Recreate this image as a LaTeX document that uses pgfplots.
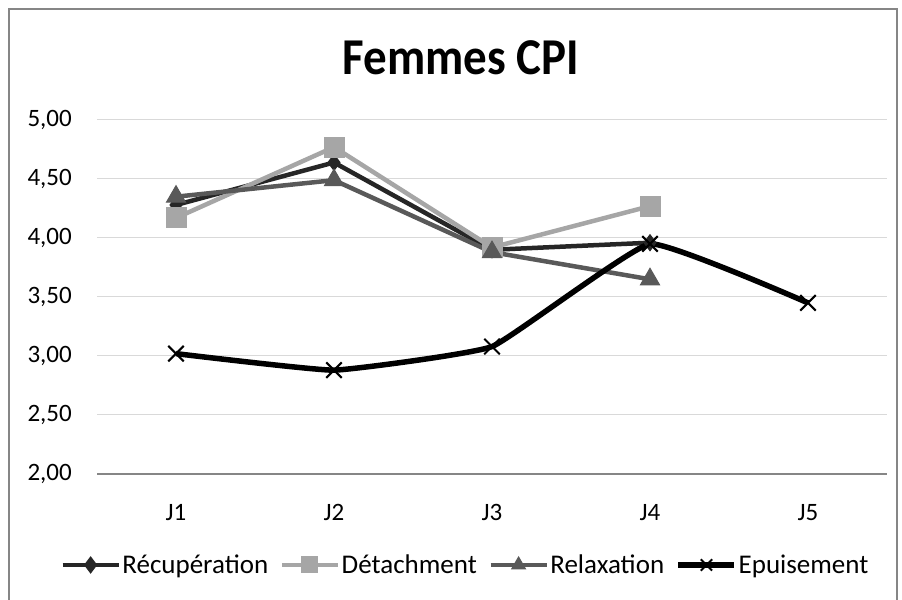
\documentclass[border=0pt]{standalone}
\usepackage{fontspec}
\setmainfont{Carlito}
\usepackage{pgfplots}
\pgfplotsset{compat=1.18}

\definecolor{recup}{HTML}{262626}
\definecolor{detach}{HTML}{A6A6A6}
\definecolor{relax}{HTML}{595959}
\definecolor{gridc}{HTML}{D9D9D9}
\definecolor{framec}{HTML}{868686}

\begin{document}
\begin{tikzpicture}
\useasboundingbox (0,0) rectangle (902bp,600bp);
% outer chart frame (bottom edge is cut off in the reference)
\draw[framec, line width=2.5bp] (9bp,0bp) -- (9bp,591bp) -- (897bp,591bp) -- (897bp,0bp);

\node[font=\fontsize{47bp}{50bp}\selectfont\bfseries, anchor=base, inner sep=0pt, yscale=1.1]
  at (461bp,525bp) {Femmes CPI};

\begin{axis}[
  at={(97bp,126bp)}, anchor=south west,
  scale only axis,
  width=790bp, height=354bp,
  xmin=0.5, xmax=5.5,
  ymin=2, ymax=5,
  xtick={1,2,3,4,5},
  xticklabels={J1,J2,J3,J4,J5},
  ytick={2,2.5,3,3.5,4,4.5,5},
  yticklabel={\pgfmathprintnumber[fixed,fixed zerofill,precision=2,use comma,assume math mode=true]{\tick}},
  tick style={draw=none},
  ticklabel style={font=\fontsize{25bp}{28bp}\selectfont, inner sep=0pt},
  yticklabel style={anchor=east, xshift=-25bp},
  xticklabel style={anchor=north, yshift=-30bp},
  ymajorgrids,
  grid style={gridc, line width=1bp},
  axis x line*=bottom,
  axis y line*=left,
  x axis line style={framec, line width=1.5bp, -},
  y axis line style={draw=none},
  clip=false,
  legend columns=4,
  legend style={
    at={(0.466,-0.257)}, anchor=center,
    draw=none, fill=none,
    font=\fontsize{27bp}{30bp}\selectfont,
    nodes={inner sep=1.5bp},
    column sep=0pt,
    /tikz/every even column/.append style={column sep=10bp},
  },
  legend image code/.code={
    \draw[mark repeat=2, mark phase=2, mark size=8bp, #1]
      plot coordinates {(0bp,0bp) (28bp,0bp) (56bp,0bp)};
  },
]

\addplot[recup, line width=4.5bp, mark=diamond*, mark size=8bp,
  mark options={solid, line width=1bp}]
  coordinates {(1,4.28) (2,4.64) (3,3.90) (4,3.96)};
\addlegendentry{Récupération}

\addplot[detach, line width=4.5bp, mark=square*, mark size=10bp,
  mark options={solid, line width=1bp}]
  coordinates {(1,4.17) (2,4.77) (3,3.92) (4,4.27)};
\addlegendentry{Détachment}

\addplot[relax, line width=4.5bp, mark=triangle*, mark size=11bp,
  mark options={solid, line width=1bp}]
  coordinates {(1,4.35) (2,4.49) (3,3.88) (4,3.65)};
\addlegendentry{Relaxation}

\addplot[black, line width=5.5bp, smooth, tension=0.2, mark=x, mark size=11bp,
  mark options={solid, line width=2bp}]
  coordinates {(1,3.02) (2,2.88) (3,3.08) (4,3.95) (5,3.45)};
\addlegendentry{Epuisement}

\end{axis}
\end{tikzpicture}
\end{document}
